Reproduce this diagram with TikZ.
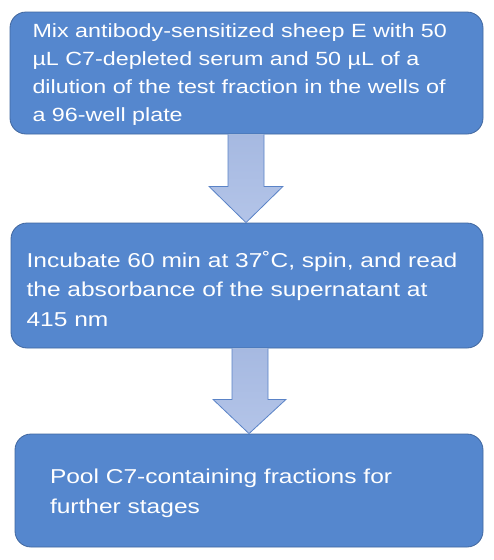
\documentclass[tikz,border=0pt]{standalone}
\usepackage{fontspec}
\setmainfont{Liberation Sans}
\newfontfamily\boxfont[FakeStretch=1.22]{Liberation Sans}
\usetikzlibrary{calc}
\definecolor{boxfill}{HTML}{5587CE}
\definecolor{boxline}{HTML}{41679F}
\definecolor{arrfillA}{HTML}{A6B9E1}
\definecolor{arrfillB}{HTML}{B3C4E8}
\definecolor{arrline}{HTML}{5A83C7}
\tikzset{
  stepbox/.style={draw=boxline, line width=0.8pt, fill=boxfill, rounded corners=16pt, inner sep=0pt},
  steptext/.style={text=white, align=left, inner sep=0pt, anchor=north west},
  blockarrow/.style={draw=arrline, line width=0.8pt, top color=arrfillA, bottom color=arrfillB, line join=miter},
}
\begin{document}
\begin{tikzpicture}[x=1pt,y=-1pt]
\fill[white] (0,0) rectangle (494,560);
\useasboundingbox (0,0) rectangle (494,560);

\node[stepbox, minimum width=473pt, minimum height=122pt] (b1) at (246.5,73) {};
\node[stepbox, minimum width=472pt, minimum height=125pt] (b2) at (247,285.5) {};
\node[stepbox, minimum width=468pt, minimum height=113pt] (b3) at (249,490.5) {};

\node[steptext, font=\boxfont\fontsize{19.1}{28.3}\selectfont] (t1) at (32.3,23) {Mix antibody-sensitized sheep E with 50\\µL C7-depleted serum and 50 µL of a\\dilution of the test fraction in the wells of\\a 96-well plate};
\node[steptext, font=\boxfont\fontsize{20.1}{29.3}\selectfont] (t2) at (26.4,251.2) {Incubate 60 min at 37˚C, spin, and read\\the absorbance of the supernatant at\\415 nm};
\node[steptext, font=\boxfont\fontsize{20.1}{29.2}\selectfont] (t3) at (49.8,469.2) {Pool C7-containing fractions for\\further stages};

% arrows
\coordinate (a1) at (246,0);
\coordinate (a2) at (250,0);
\draw[blockarrow] ($(b1.south -| a1)+(-18,0)$) -- ($(b1.south -| a1)+(-18,52)$) -- ($(b1.south -| a1)+(-37,52)$) -- (b2.north -| a1) -- ($(b1.south -| a1)+(37,52)$) -- ($(b1.south -| a1)+(18,52)$) -- ($(b1.south -| a1)+(18,0)$);
\draw[blockarrow] ($(b2.south -| a2)+(-18,0)$) -- ($(b2.south -| a2)+(-18,51)$) -- ($(b2.south -| a2)+(-37,51)$) -- ($(b3.north -| a2)+(-1,0)$) -- ($(b2.south -| a2)+(36,51)$) -- ($(b2.south -| a2)+(18,51)$) -- ($(b2.south -| a2)+(18,0)$);
\end{tikzpicture}
\end{document}
